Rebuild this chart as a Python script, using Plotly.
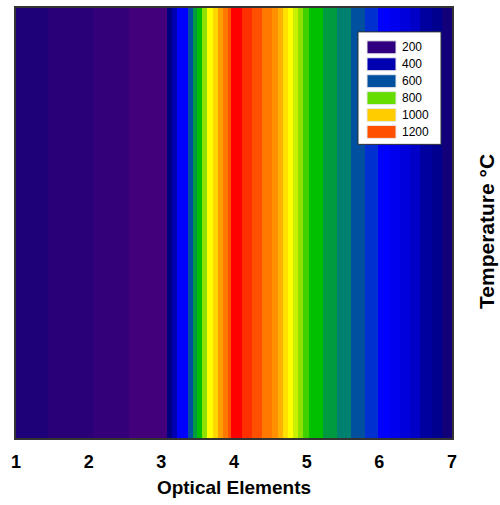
import plotly.graph_objects as go

# Stripe boundaries along the optical path (element units) and the
# temperature of each stripe between consecutive boundaries.
element_edges = [
    1.000, 1.440, 2.060, 2.555, 3.078, 3.147, 3.216, 3.367, 3.436, 3.491,
    3.560, 3.628, 3.711, 3.780, 3.849, 3.917, 3.959, 4.110, 4.248, 4.385,
    4.523, 4.606, 4.674, 4.743, 4.812, 4.881, 4.950, 5.032, 5.225, 5.417,
    5.610, 5.803, 5.982, 6.147, 6.284, 6.422, 6.560, 6.725, 6.862, 7.000,
]
stripe_temps = [
    250, 220, 190, 160, 300, 400, 500, 600, 700, 750,
    825, 875, 960, 1060, 1120, 1200, 1300, 1250, 1200, 1120,
    1090, 1030, 925, 875, 850, 825, 775, 750, 700, 650,
    600, 550, 500, 480, 460, 430, 360, 330, 280,
]

# Temperature palette (°C -> colour)
palette_temps = [
    160, 190, 220, 250, 280, 300, 330, 360, 400, 430, 460, 480, 500,
    550, 600, 650, 700, 750, 775, 800, 825, 850, 875, 925, 960, 1000,
    1030, 1060, 1090, 1120, 1200, 1250, 1300,
]
palette_colors = [
    "#42007A", "#34007A", "#2A0078", "#1E0078", "#12007A", "#000080",
    "#00008E", "#00009E", "#0000B0", "#0000C8", "#0000DD", "#0000EE",
    "#0000FF", "#0030D0", "#0050A0", "#00806E", "#009A40", "#00C000",
    "#40D000", "#66DD00", "#90E000", "#C8F000", "#FFFF00", "#FFE000",
    "#FFD800", "#FFCC00", "#FFB000", "#FFA000", "#FF9000", "#FF7800",
    "#FF5000", "#FF3000", "#FF0000",
]

legend_labels = ["200", "400", "600", "800", "1000", "1200"]
legend_colors = ["#2E0080", "#0000B0", "#0050A0", "#66DD00", "#FFCC00", "#FF5000"]

x_ticks = [1, 2, 3, 4, 5, 6, 7]

W, H = 500, 505
M_L, M_R, M_T, M_B = 16, 48, 6, 67
PLOT_W, PLOT_H = W - M_L - M_R, H - M_T - M_B


def px_x(px):
    """Pixel column -> paper x."""
    return (px - M_L) / PLOT_W


def px_y(py):
    """Pixel row -> paper y."""
    return 1 - (py - M_T) / PLOT_H


t_lo, t_hi = palette_temps[0], palette_temps[-1]
colorscale = [[(t - t_lo) / (t_hi - t_lo), c] for t, c in zip(palette_temps, palette_colors)]

fig = go.Figure()
fig.add_trace(go.Heatmap(
    x=element_edges,
    y=[0, 1],
    z=[stripe_temps],
    zmin=t_lo, zmax=t_hi,
    colorscale=colorscale,
    showscale=False,
    hoverinfo="skip",
    showlegend=False,
))

shapes = [
    # soft drop shadow along the frame
    dict(type="rect", xref="paper", yref="paper", layer="below",
         x0=px_x(M_L + 2), x1=px_x(W - M_R + 2), y0=px_y(H - M_B + 2), y1=px_y(M_T + 2),
         line=dict(width=0), fillcolor="#aaaaaa"),
    # legend box
    dict(type="rect", xref="paper", yref="paper", layer="above",
         x0=px_x(358), x1=px_x(441), y0=px_y(143), y1=px_y(30),
         line=dict(color="#333333", width=1), fillcolor="white"),
]
annotations = []
for i, (lab, col) in enumerate(zip(legend_labels, legend_colors)):
    top = 39 + 17 * i
    shapes.append(dict(
        type="rect", xref="paper", yref="paper", layer="above",
        x0=px_x(367), x1=px_x(396), y0=px_y(top + 13), y1=px_y(top),
        line=dict(color="#e8e8e8", width=1), fillcolor=col,
    ))
    annotations.append(dict(
        xref="paper", yref="paper", x=px_x(400), y=px_y(top + 6.5),
        xanchor="left", yanchor="middle", showarrow=False,
        text=lab, font=dict(size=12, color="black"),
    ))

# vertical axis title on the right-hand side
annotations.append(dict(
    xref="paper", yref="paper", x=px_x(487), y=px_y(231),
    xanchor="center", yanchor="middle", showarrow=False, textangle=-90,
    text="Temperature °C", font=dict(size=21, weight="bold", color="black"),
))

fig.update_layout(
    width=W, height=H,
    margin=dict(l=M_L, r=M_R, t=M_T, b=M_B),
    paper_bgcolor="white", plot_bgcolor="white",
    font=dict(family="Liberation Sans, Arial, sans-serif", color="black"),
    showlegend=False,
    shapes=shapes,
    annotations=annotations,
    xaxis=dict(
        range=[1, 7], tickvals=x_ticks, ticktext=[str(v) for v in x_ticks],
        showgrid=False, zeroline=False,
        ticks="outside", ticklen=6, tickcolor="rgba(0,0,0,0)",
        tickfont=dict(size=18, weight="bold"),
        showline=True, linecolor="#333333", linewidth=2, mirror=True,
        title=dict(text="Optical Elements", font=dict(size=19, weight="bold"), standoff=10),
    ),
    yaxis=dict(
        range=[0, 1], showticklabels=False, ticks="",
        showgrid=False, zeroline=False,
        showline=True, linecolor="#333333", linewidth=2, mirror=True,
    ),
)

fig.write_html("out.html")
